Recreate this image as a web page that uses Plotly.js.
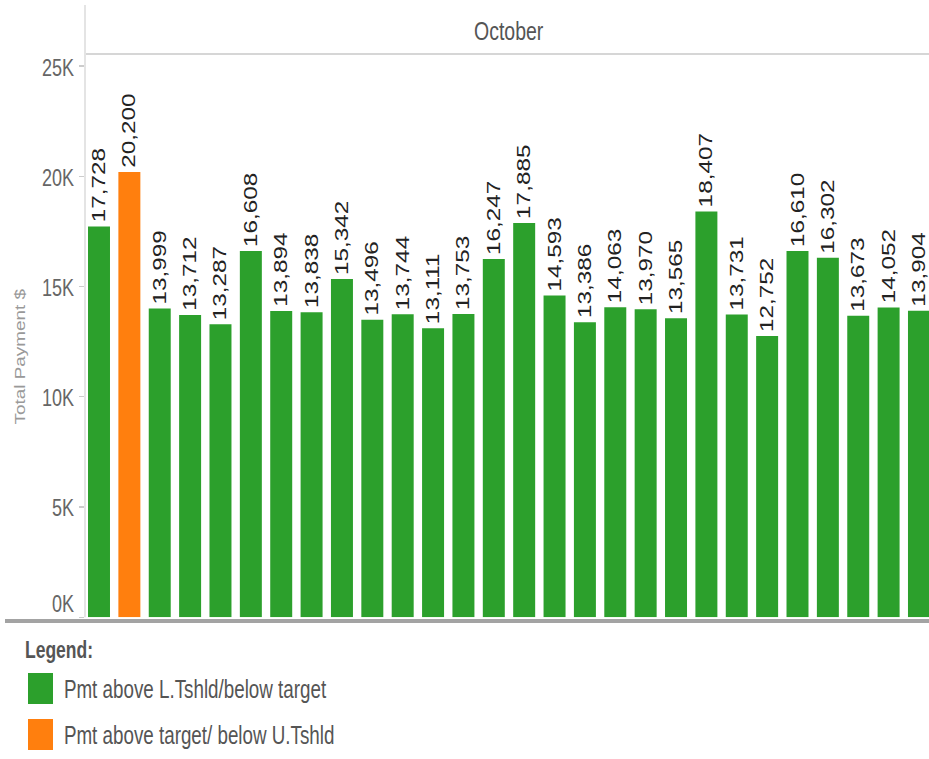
<!DOCTYPE html>
<html>
<head>
<meta charset="utf-8">
<script src="https://cdn.plot.ly/plotly-3.0.1.min.js"></script>
<style>
  html, body { margin: 0; padding: 0; background: #ffffff; overflow: hidden; width: 929px; height: 759px; }
  #chart { width: 929px; height: 562px; transform: scaleY(1.3505); transform-origin: 0 0; }
</style>
</head>
<body>
<div id="chart"></div>
<script>
// ---- data ----
const days = [1,2,3,4,5,6,7,8,9,10,11,12,13,14,15,16,17,18,19,20,21,22,23,24,25,26,27,28];
const payments = [17728,20200,13999,13712,13287,16608,13894,13838,15342,13496,13744,13111,13753,16247,
                  17885,14593,13386,14063,13970,13565,18407,13731,12752,16610,16302,13673,14052,13904];
const statusIdx = [0,1,0,0,0,0,0,0,0,0,0,0,0,0,0,0,0,0,0,0,0,0,0,0,0,0,0,0];
const seriesNames = ["Pmt above L.Tshld/below target", "Pmt above target/ below U.Tshld"];
const seriesColors = ["#2ca02c", "#ff7f0e"];
const tickVals = [0, 5000, 10000, 15000, 20000, 25000];
const tickText = ["0K", "5K", "10K", "15K", "20K", "25K"];
const facetLabel = "October";
const yTitle = "Total Payment $";
const legendTitle = "Legend:";

// ---- layout geometry (unstretched px) ----
const W = 929, H = 562;
const L = 85, T = 40, B = 105;
const plotH = H - T - B;          // 417
const plotW = W - L;              // 844
const S = 1.3505;                 // vertical stretch of the page
// convert reference pixel coords to paper coords
const px = x => (x - L) / plotW;
const py = y => ((H - B) - y / S) / plotH;

const font = "Liberation Sans, Arial, sans-serif";

const trace = {
  type: "bar",
  x: days,
  y: payments,
  marker: { color: statusIdx.map(i => seriesColors[i]), line: { width: 0 } },
  texttemplate: "%{y:,}",
  textposition: "outside",
  textangle: -90,
  constraintext: "none",
  cliponaxis: false,
  textfont: { family: font, size: 18, color: "#222222" },
  hoverinfo: "x+y",
  showlegend: false
};

const annotations = [];
// y tick labels
tickVals.forEach((v, i) => {
  annotations.push({
    xref: "paper", yref: "y", x: 0, y: v, xanchor: "right", yanchor: "middle",
    xshift: -9, yshift: i === 0 ? 10 : -1,
    text: tickText[i], showarrow: false,
    font: { family: font, size: 18, color: "#666666" }
  });
});
// y title
annotations.push({
  xref: "paper", yref: "paper", x: px(20), y: py(357), xanchor: "center", yanchor: "middle",
  text: yTitle, textangle: -90, showarrow: false,
  font: { family: font, size: 14, color: "#999999" }
});
// facet header
annotations.push({
  xref: "paper", yref: "paper", x: px(509), y: py(31), xanchor: "center", yanchor: "middle",
  text: facetLabel, showarrow: false,
  font: { family: font, size: 19.5, color: "#555555" }
});
// legend title
annotations.push({
  xref: "paper", yref: "paper", x: px(23), y: py(649), xanchor: "left", yanchor: "middle",
  text: "<b>" + legendTitle + "</b>", showarrow: false,
  font: { family: font, size: 17.5, color: "#555555" }
});

const shapes = [
  // header underline
  { type: "line", xref: "paper", yref: "paper", x0: 0, x1: 1, y0: 1, y1: 1,
    line: { color: "#d6d6d6", width: 1.5 } },
  // left frame line
  { type: "line", xref: "paper", yref: "paper", x0: 0, x1: 0, y0: 0, y1: py(5),
    line: { color: "#e4e4e4", width: 2 } },
  // bottom thick axis line
  { type: "line", xref: "paper", yref: "paper", x0: px(5), x1: 1, y0: py(621), y1: py(621),
    line: { color: "#a3a3a3", width: 3 } }
];

// legend swatches + labels
const swTop = [673, 719];
seriesNames.forEach((name, i) => {
  shapes.push({
    type: "rect", xref: "paper", yref: "paper",
    x0: px(28), x1: px(53), y0: py(swTop[i]), y1: py(swTop[i] + 31),
    fillcolor: seriesColors[i], line: { width: 0 }
  });
  annotations.push({
    xref: "paper", yref: "paper", x: px(62), y: py(swTop[i] + 16), xanchor: "left", yanchor: "middle",
    text: name, showarrow: false,
    font: { family: font, size: 18.8, color: "#555555" }
  });
});

const layout = {
  width: W, height: H,
  margin: { l: L, r: 0, t: T, b: B, pad: 0 },
  paper_bgcolor: "#ffffff",
  plot_bgcolor: "#ffffff",
  bargap: 0.276,
  showlegend: false,
  font: { family: font },
  xaxis: {
    type: "linear", range: [0.539, 28.33], showticklabels: false, ticks: "",
    showgrid: false, zeroline: false, showline: false, fixedrange: true
  },
  yaxis: {
    range: [0, 25550], tickvals: tickVals, ticktext: tickText, showticklabels: false,
    ticks: "outside", ticklen: 5, tickwidth: 1, tickcolor: "#cccccc",
    showgrid: false, zeroline: false, showline: false, fixedrange: true
  },
  annotations: annotations,
  shapes: shapes
};

Plotly.newPlot("chart", [trace], layout, { displayModeBar: false, staticPlot: true });
</script>
</body>
</html>
